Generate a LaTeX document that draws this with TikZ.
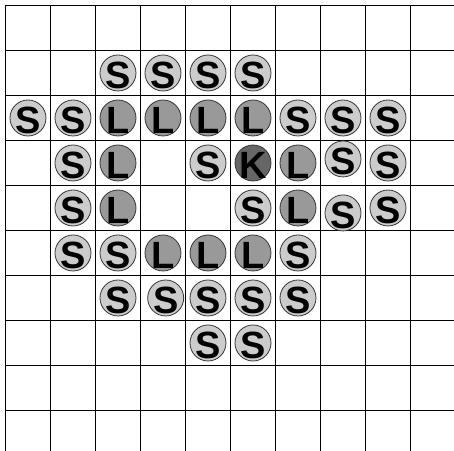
\documentclass[tikz,border=0pt]{standalone}
\usepackage{fontspec}
\setmainfont{Liberation Sans}
\usepackage{xcolor}
\usepackage{tikz}

\begin{document}
\begin{tikzpicture}[
    x=1.0cm,
    y=1.0cm,
    boardline/.style={
        draw=black,
        line width=0.6pt
    },
    stone/.style={
        circle,
        draw=black!80,
        line width=0.5pt,
        minimum size=8mm,
        inner sep=-2mm,
        text height=6.8mm,
        text depth=0mm,
        font=\fontsize{24}{24}\selectfont\bfseries
    },
    sstone/.style={stone,fill=black!20},
    lstone/.style={stone,fill=black!40},
    kstone/.style={stone,fill=black!60}
]

\useasboundingbox (-0.122,-9.9) rectangle (9.967,0.122);
\draw[boardline,step=1] (0,-9.9) grid (9.967,0);

% row 1
\node[sstone] (s-1-2) at (2.5,-1.5) {S};
\node[sstone] (s-1-3) at (3.5,-1.5) {S};
\node[sstone] (s-1-4) at (4.5,-1.5) {S};
\node[sstone] (s-1-5) at (5.5,-1.5) {S};

% row 2
\node[sstone] (s-2-0) at (0.5,-2.5) {S};
\node[sstone] (s-2-1) at (1.5,-2.5) {S};
\node[lstone] (l-2-2) at (2.5,-2.5) {L};
\node[lstone] (l-2-3) at (3.5,-2.5) {L};
\node[lstone] (l-2-4) at (4.5,-2.5) {L};
\node[lstone] (l-2-5) at (5.5,-2.5) {L};
\node[sstone] (s-2-6) at (6.5,-2.5) {S};
\node[sstone] (s-2-7) at (7.5,-2.5) {S};
\node[sstone] (s-2-8) at (8.5,-2.5) {S};

% row 3
\node[sstone] (s-3-1) at (1.5,-3.5) {S};
\node[lstone] (l-3-2) at (2.5,-3.5) {L};
\node[sstone] (s-3-4) at (4.5,-3.5) {S};
\node[kstone] (k-3-5) at (5.5,-3.5) {K};
\node[lstone] (l-3-6) at (6.5,-3.5) {L};
\node[sstone] (s-3-7) at (7.5,-3.41) {S};
\node[sstone] (s-3-8) at (8.5,-3.5) {S};

% row 4
\node[sstone] (s-4-1) at (1.5,-4.5) {S};
\node[lstone] (l-4-2) at (2.5,-4.5) {L};
\node[sstone] (s-4-5) at (5.5,-4.5) {S};
\node[lstone] (l-4-6) at (6.5,-4.5) {L};
\node[sstone] (s-4-7) at (7.5,-4.61) {S};
\node[sstone] (s-4-8) at (8.5,-4.5) {S};

% row 5
\node[sstone] (s-5-1) at (1.5,-5.5) {S};
\node[sstone] (s-5-2) at (2.5,-5.5) {S};
\node[lstone] (l-5-3) at (3.5,-5.5) {L};
\node[lstone] (l-5-4) at (4.5,-5.5) {L};
\node[lstone] (l-5-5) at (5.5,-5.5) {L};
\node[sstone] (s-5-6) at (6.5,-5.5) {S};

% row 6
\node[sstone] (s-6-2) at (2.5,-6.5) {S};
\node[sstone] (s-6-3) at (3.56,-6.5) {S};
\node[sstone] (s-6-4) at (4.5,-6.5) {S};
\node[sstone] (s-6-5) at (5.5,-6.5) {S};
\node[sstone] (s-6-6) at (6.5,-6.5) {S};

% row 7
\node[sstone] (s-7-4) at (4.5,-7.5) {S};
\node[sstone] (s-7-5) at (5.5,-7.5) {S};

\end{tikzpicture}
\end{document}
